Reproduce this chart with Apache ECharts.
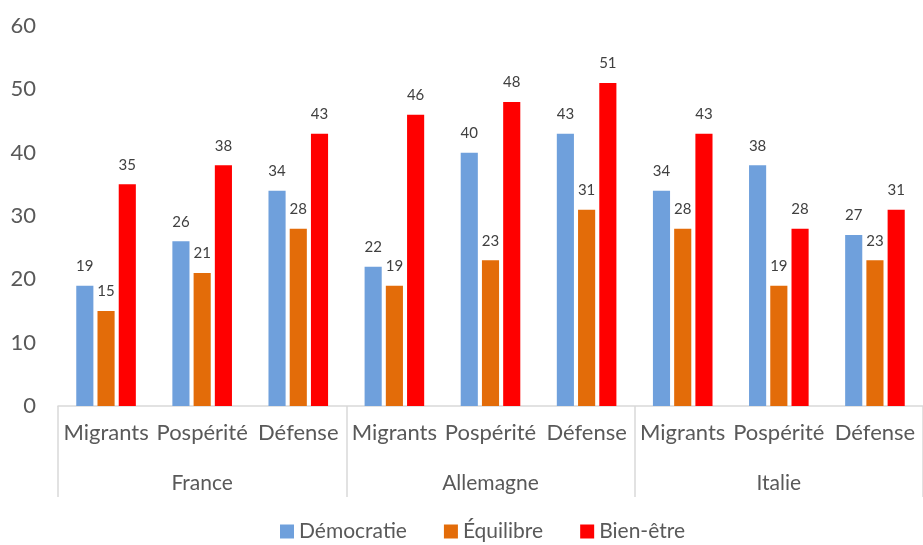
<!DOCTYPE html>
<html>
<head>
<meta charset="utf-8">
<script src="https://cdn.jsdelivr.net/npm/echarts@6/dist/echarts.min.js"></script>
<style>
  html, body { margin: 0; padding: 0; background: #fff; }
  #chart-container { width: 923px; height: 545px; }
</style>
</head>
<body>
<div id="chart-container"></div>
<script>
var topics = ['Migrants', 'Pospérité', 'Défense', 'Migrants', 'Pospérité', 'Défense', 'Migrants', 'Pospérité', 'Défense'];
var countries = ['France', 'Allemagne', 'Italie'];
var democratie = [19, 26, 34, 22, 40, 43, 34, 38, 27];
var equilibre = [15, 21, 28, 19, 23, 31, 28, 19, 23];
var bienEtre = [35, 38, 43, 46, 48, 51, 43, 28, 31];

var dom = document.getElementById('chart-container');
var myChart = echarts.init(dom);

var font = 'Lato, "Open Sans", sans-serif';
var textColor = '#595959';

function barSeries(name, data, color) {
  return {
    name: name,
    type: 'bar',
    data: data,
    barGap: '24%',
    barCategoryGap: '38%',
    itemStyle: { color: color },
    label: {
      show: true,
      position: 'top',
      distance: 12,
      fontFamily: font,
      fontSize: 15,
      color: '#404040'
    }
  };
}

var option = {
  animation: false,
  textStyle: { fontFamily: font },
  grid: { left: 58, right: 0, top: 26, bottom: 139 },
  legend: {
    bottom: -2,
    left: 275,
    itemWidth: 14,
    itemHeight: 14,
    itemGap: 37,
    icon: 'rect',
    textStyle: { fontFamily: font, fontSize: 21, color: textColor },
    data: ['Démocratie', 'Équilibre', 'Bien-être']
  },
  xAxis: [
    {
      type: 'category',
      data: topics,
      axisLine: { lineStyle: { color: '#d9d9d9', width: 1.5 } },
      axisTick: { show: false },
      axisLabel: { fontFamily: font, fontSize: 22, color: textColor, margin: 16, interval: 0 }
    },
    {
      type: 'category',
      data: countries,
      position: 'bottom',
      axisLine: { show: false },
      axisTick: { show: true, length: 91, lineStyle: { color: '#d9d9d9', width: 1.5 } },
      axisLabel: { fontFamily: font, fontSize: 21, color: textColor, margin: 67 }
    }
  ],
  yAxis: {
    type: 'value',
    min: 0,
    max: 60,
    interval: 10,
    splitLine: { show: false },
    axisLine: { show: false },
    axisTick: { show: false },
    axisLabel: { fontFamily: font, fontSize: 22, color: textColor, margin: 22 }
  },
  series: [
    barSeries('Démocratie', democratie, '#6FA0DC'),
    barSeries('Équilibre', equilibre, '#E36C09'),
    barSeries('Bien-être', bienEtre, '#FF0000')
  ]
};

myChart.setOption(option);
</script>
</body>
</html>
